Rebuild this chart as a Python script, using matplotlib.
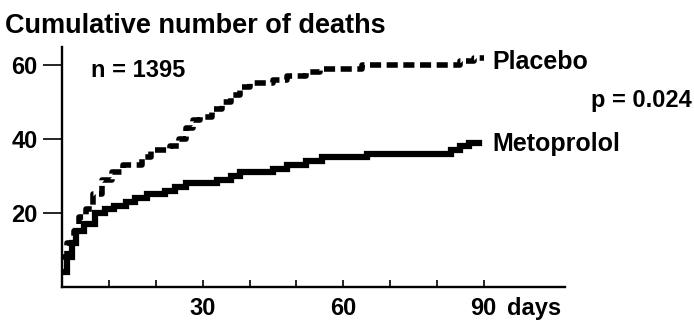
import matplotlib.pyplot as plt
import matplotlib.transforms as mtransforms

plt.rcParams['font.family'] = ['Liberation Sans', 'DejaVu Sans']
plt.rcParams['font.weight'] = 'bold'

# Cumulative deaths (day, count), drawn as steps
placebo_days = [0, 1, 2.5, 3.5, 5, 6.5, 8.5, 10.5, 13, 17, 19, 23, 25, 26.5,
                28, 29.5, 32, 34, 36, 38, 40, 45, 48, 52, 55, 64, 85, 88, 90]
placebo_deaths = [8, 12, 15, 19, 21, 25, 29, 31, 33, 35, 37, 38, 40, 43,
                  45, 46, 48, 50, 52, 54, 55, 56, 57, 58, 59, 60, 61, 62, 62]

meto_days = [0, 1, 2, 3, 4.5, 7, 9, 11, 13.5, 15.5, 18, 22, 24, 26.5, 33,
             36, 38, 45, 48, 52, 55.5, 65, 83, 85, 87, 89]
meto_deaths = [4, 8, 12, 15, 17, 20, 21, 22, 23, 24, 25, 26, 27, 28, 29,
               30, 31, 32, 33, 34, 35, 36, 37, 38, 39, 39]

x_ticks = [30, 60, 90]
x_minor = [10, 20, 40, 50, 70, 80]
y_ticks = [20, 40, 60]

fig = plt.figure(figsize=(6.94, 3.21), dpi=100)
ax = fig.add_axes([0.090, 0.106, 0.724, 0.748])

ax.plot(placebo_days, placebo_deaths, drawstyle='steps-post', color='black',
        lw=4.0, linestyle=(0, (2, 1)), solid_capstyle='butt')
ax.plot(meto_days, meto_deaths, drawstyle='steps-post', color='black',
        lw=4.5, solid_joinstyle='miter')

ax.set_xlim(0, 107.4)
ax.set_ylim(0, 64.9)

for side in ['top', 'right']:
    ax.spines[side].set_visible(False)
for side in ['left', 'bottom']:
    ax.spines[side].set_linewidth(1.7)

ax.set_xticks(x_ticks)
ax.set_xticks(x_minor, minor=True)
ax.set_yticks(y_ticks)
ax.tick_params(axis='x', which='both', direction='in', length=5, width=1.2,
               pad=7, labelsize=17)
ax.tick_params(axis='y', direction='out', length=13.5, width=1.2, pad=4.5,
               labelsize=17)

# "days" after the 90 tick label
trans = mtransforms.blended_transform_factory(ax.transData, ax.transAxes)
offset = mtransforms.ScaledTranslation(0, -7 / 72, fig.dpi_scale_trans)
ax.text(95, 0, 'days', transform=trans + offset, va='top', ha='left',
        fontsize=17)

fig.text(5 / 694, 1 - 33 / 321, 'Cumulative number of deaths', fontsize=19.5,
         va='baseline', ha='left')
ax.text(6.2, 58.6, 'n = 1395', fontsize=17, va='center', ha='left')
ax.text(92.0, 60.8, 'Placebo', fontsize=18, va='center', ha='left')
ax.text(92.0, 38.6, 'Metoprolol', fontsize=18, va='center', ha='left')
fig.text(692 / 694, 1 - 100 / 321, 'p = 0.024', fontsize=17, va='center',
         ha='right')

fig.savefig('out.png', dpi=100)
